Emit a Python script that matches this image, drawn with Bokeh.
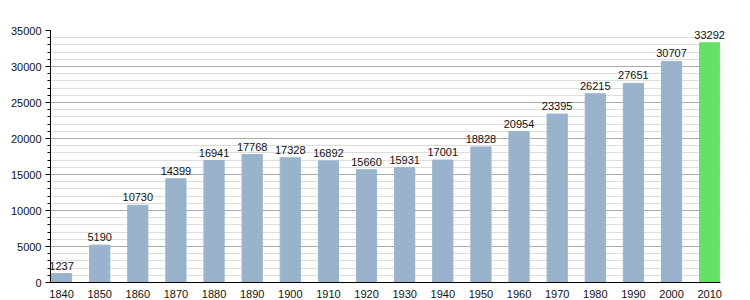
from bokeh.plotting import figure
from bokeh.models import Range1d, FixedTicker, ColumnDataSource, Label, BoxAnnotation
from bokeh.embed import file_html
from bokeh.resources import INLINE

years = ["1840", "1850", "1860", "1870", "1880", "1890", "1900", "1910", "1920",
         "1930", "1940", "1950", "1960", "1970", "1980", "1990", "2000", "2010"]
population = [1237, 5190, 10730, 14399, 16941, 17768, 17328, 16892, 15660,
              15931, 17001, 18828, 20954, 23395, 26215, 27651, 30707, 33292]

BAR = "#99b3cc"
HIGHLIGHT = "#66e066"
colors = [BAR] * (len(years) - 1) + [HIGHLIGHT]
xs = list(range(len(years)))

src = ColumnDataSource(dict(x=xs, top=population, color=colors))

X0 = -0.29
X_AXIS_END = len(years) - 1 + 0.28
X_FRAME_END = len(years) - 1 + 0.94

p = figure(width=750, height=300, output_backend="svg", toolbar_location=None,
           x_range=Range1d(X0, X_FRAME_END),
           y_range=Range1d(0, 35000),
           min_border_left=50, min_border_right=5, min_border_top=30,
           min_border_bottom=18)
p.outline_line_color = None
p.background_fill_color = "white"

p.vbar(x="x", top="top", width=0.53, color="color", source=src)

# hide grid lines to the right of the last bar (plot area ends there)
p.add_layout(BoxAnnotation(left=X_AXIS_END, fill_color="white", fill_alpha=1,
                           line_color=None))

for xi, v in zip(xs, population):
    p.add_layout(Label(x=xi, y=v, text=str(v), text_align="center",
                       text_baseline="bottom", y_offset=4,
                       text_font="Liberation Sans", text_font_size="11px",
                       text_color="#111111"))

p.xgrid.visible = False
p.ygrid.grid_line_color = "#aaaaaa"
p.ygrid.grid_line_width = 1
p.ygrid.minor_grid_line_color = "#dddddd"
p.ygrid.minor_grid_line_width = 1

p.yaxis.ticker = FixedTicker(ticks=list(range(0, 35001, 5000)),
                             minor_ticks=list(range(0, 35001, 1000)))
p.xaxis.ticker = FixedTicker(ticks=xs)
p.xaxis.major_label_overrides = {i: y for i, y in enumerate(years)}
p.xaxis.bounds = (X0, X_AXIS_END)

for ax in (p.xaxis, p.yaxis):
    ax.axis_line_color = "black"
    ax.axis_line_width = 1
    ax.major_label_text_font = "Liberation Sans"
    ax.major_label_text_font_size = "11px"
    ax.major_label_text_color = "#111111"

p.yaxis.major_tick_out = 5
p.yaxis.major_tick_in = 0
p.yaxis.minor_tick_out = 3
p.yaxis.minor_tick_in = 0
p.yaxis.major_tick_line_color = "black"
p.yaxis.minor_tick_line_color = "black"
p.yaxis.major_label_standoff = 4
p.yaxis.formatter.use_scientific = False

p.xaxis.major_tick_line_color = None
p.xaxis.minor_tick_line_color = None
p.xaxis.major_label_standoff = 1

open("out.html", "w").write(file_html(p, INLINE))
